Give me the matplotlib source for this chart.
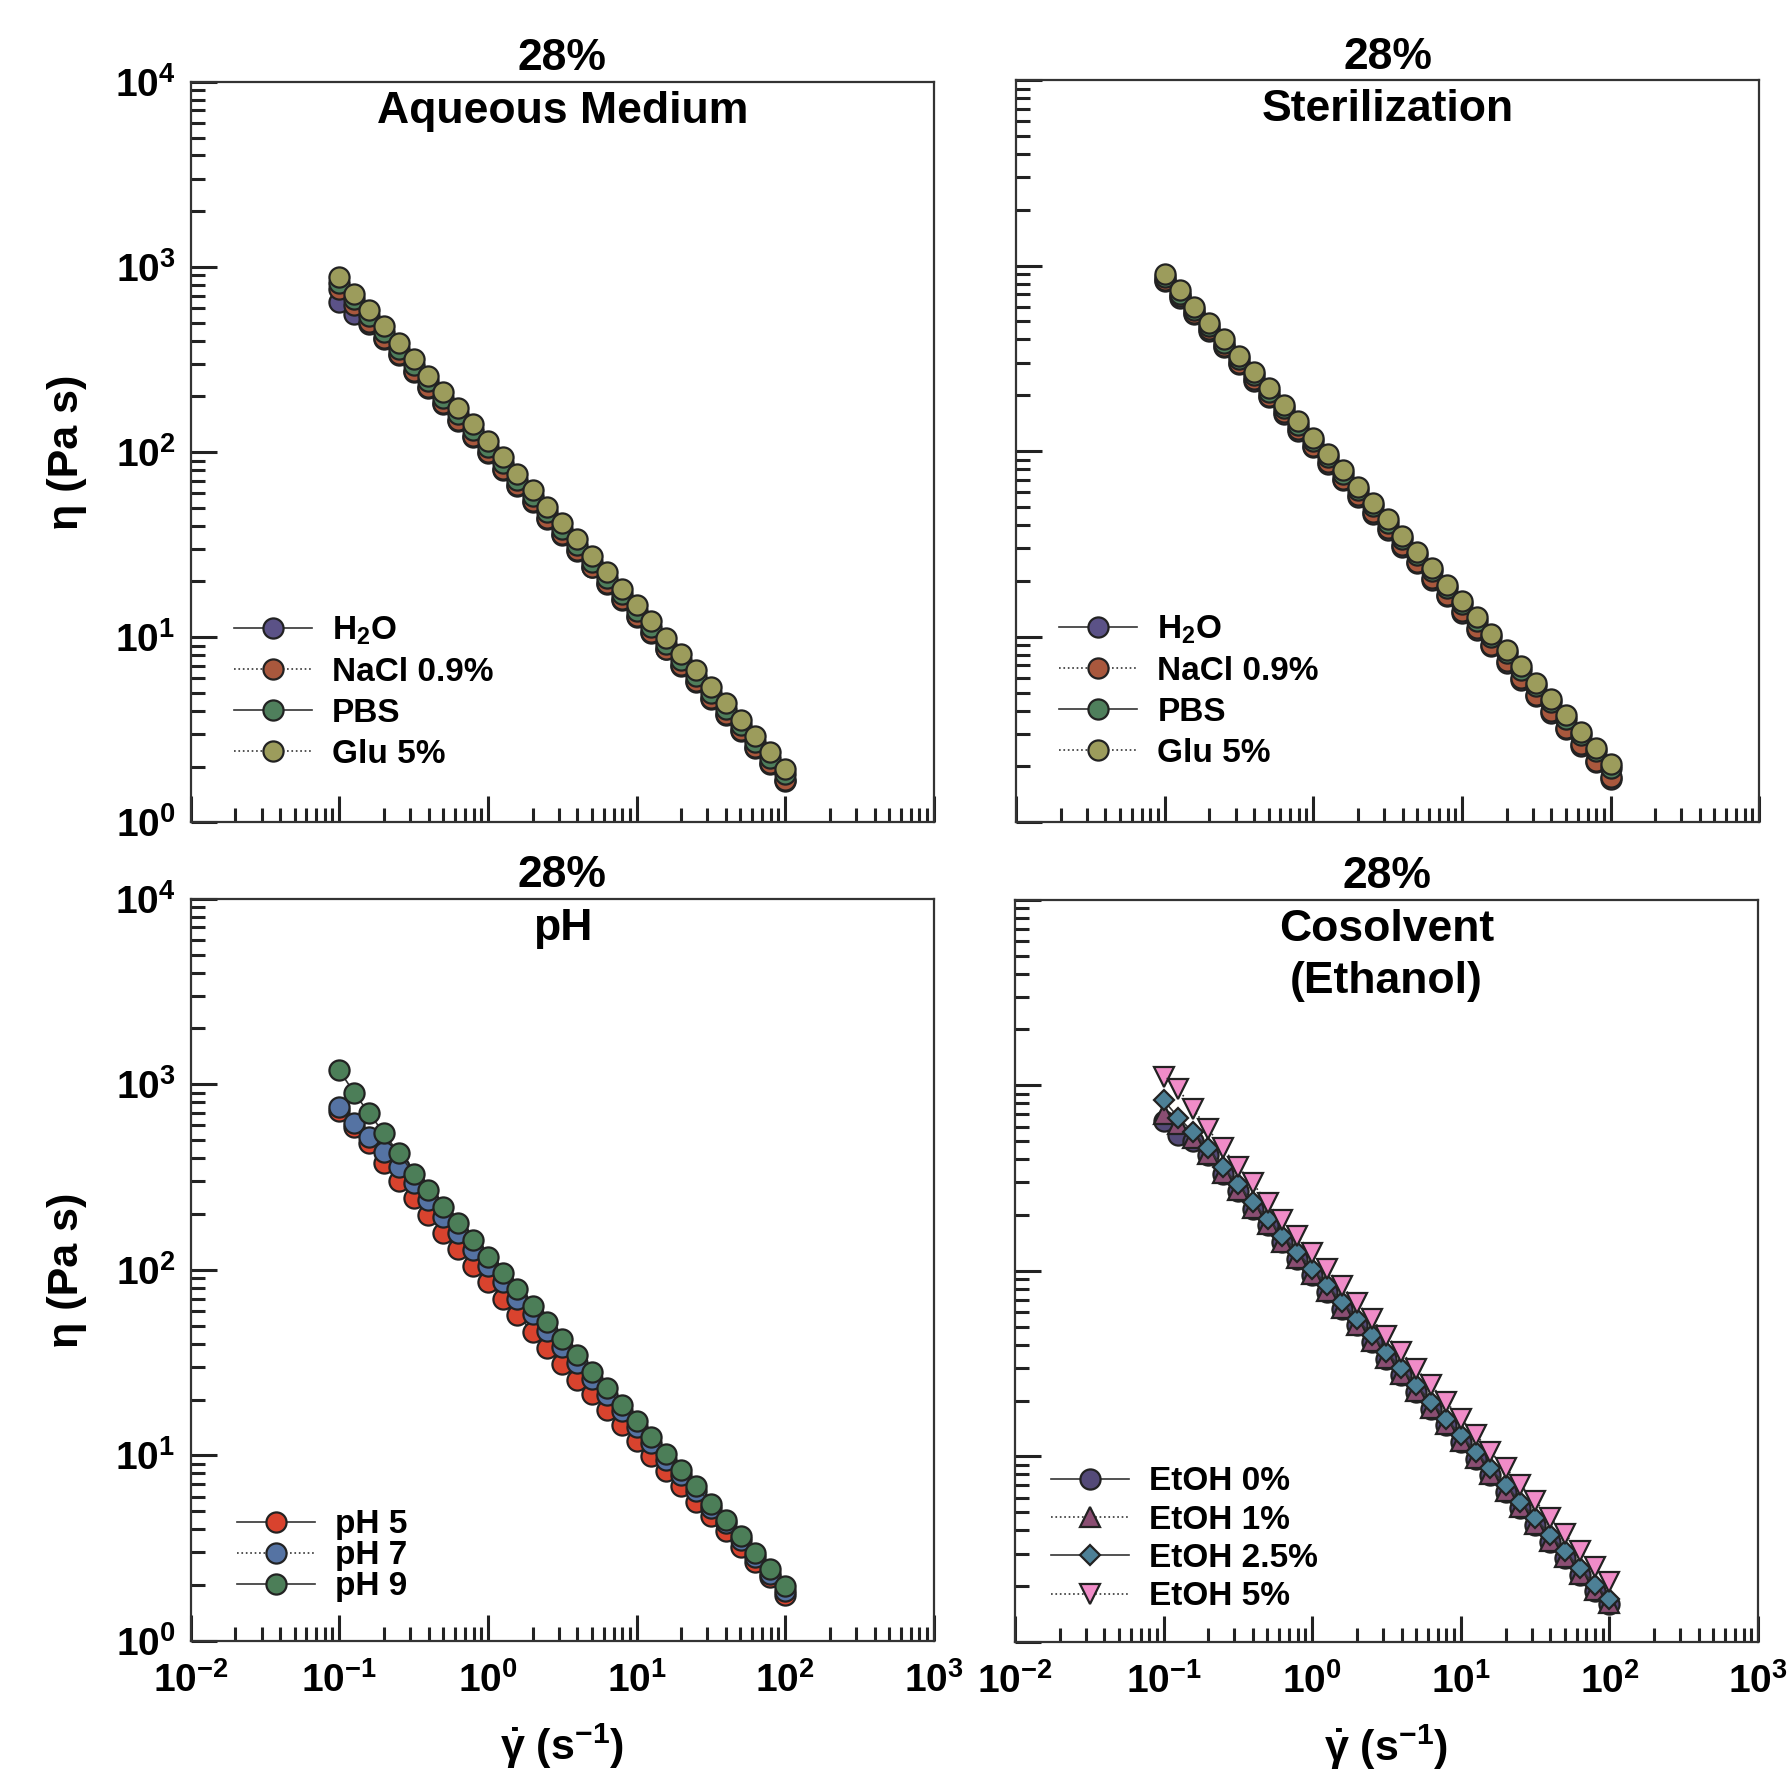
import numpy as np
import matplotlib
matplotlib.use('Agg')
import matplotlib.pyplot as plt
from matplotlib.ticker import LogLocator, NullFormatter

plt.rcParams['font.family'] = ['Liberation Sans', 'DejaVu Sans']
plt.rcParams['font.weight'] = 'bold'
plt.rcParams['axes.labelweight'] = 'bold'
plt.rcParams['mathtext.fontset'] = 'custom'
plt.rcParams['mathtext.rm'] = 'Liberation Sans:bold'
plt.rcParams['mathtext.bf'] = 'Liberation Sans:bold'
plt.rcParams['mathtext.it'] = 'Liberation Sans:bold'
plt.rcParams['mathtext.default'] = 'bf'

# shear rate (1/s)
shear = [0.1, 0.126, 0.158, 0.2, 0.251, 0.316, 0.398, 0.501, 0.631, 0.794,
         1.0, 1.26, 1.58, 2.0, 2.51, 3.16, 3.98, 5.01, 6.31, 7.94,
         10.0, 12.6, 15.8, 20.0, 25.1, 31.6, 39.8, 50.1, 63.1, 79.4, 100.0]

# viscosity (Pa s) - aqueous medium
aq_h2o = [650, 560, 490, 409, 334, 272, 222, 181, 148, 121, 98.5, 80.4, 65.6, 53.6, 43.7, 35.6,
          29.1, 23.8, 19.4, 15.8, 12.9, 10.5, 8.58, 7.0, 5.71, 4.66, 3.81, 3.11, 2.53, 2.07, 1.68]
aq_nacl = [760, 620, 506, 413, 337, 275, 224, 183, 149, 122, 99.5, 81.2, 66.3, 54.1, 44.1, 36.0,
           29.4, 24.0, 19.6, 16.0, 13.0, 10.6, 8.67, 7.08, 5.77, 4.71, 3.85, 3.14, 2.56, 2.09, 1.70]
aq_pbs = [820, 668, 545, 444, 362, 295, 241, 197, 160, 131, 107, 87.0, 71.0, 58.0, 47.2, 38.5,
          31.4, 25.6, 20.9, 17.0, 13.9, 11.3, 9.2, 7.5, 6.15, 5.0, 4.1, 3.34, 2.72, 2.22, 1.82]
aq_glu = [880, 718, 585, 478, 389, 318, 259, 211, 172, 141, 115, 93.5, 76.3, 62.2, 50.7, 41.4,
          33.7, 27.5, 22.4, 18.3, 14.9, 12.2, 9.94, 8.11, 6.61, 5.39, 4.40, 3.59, 2.93, 2.39, 1.95]

# sterilization
st_h2o = [823, 670, 546, 444, 362, 294, 239, 195, 159, 129, 105, 85.5, 69.6, 56.6, 46.1, 37.5,
          30.6, 24.9, 20.2, 16.5, 13.4, 10.9, 8.87, 7.22, 5.88, 4.78, 3.89, 3.17, 2.58, 2.10, 1.72]
st_nacl = [840, 684, 557, 453, 369, 300, 244, 199, 162, 132, 107, 87.2, 71.0, 57.8, 47.0, 38.3,
           31.2, 25.4, 20.6, 16.8, 13.7, 11.1, 9.05, 7.37, 6.0, 4.88, 3.97, 3.23, 2.63, 2.14, 1.75]
st_pbs = [864, 706, 576, 470, 384, 313, 256, 209, 171, 139, 113, 92.8, 75.7, 61.8, 50.5, 41.2,
          33.7, 27.5, 22.5, 18.3, 15.0, 12.2, 9.98, 8.14, 6.64, 5.42, 4.43, 3.62, 2.95, 2.41, 1.97]
st_glu = [900, 735, 600, 490, 400, 326, 267, 218, 178, 145, 118, 96.7, 78.9, 64.4, 52.6, 42.9,
          35.1, 28.6, 23.4, 19.1, 15.6, 12.7, 10.4, 8.48, 6.92, 5.65, 4.61, 3.77, 3.07, 2.51, 2.05]

# pH
ph5 = [720, 590, 480, 378, 303, 245, 197, 158, 129, 105, 86.0, 70.0, 57.0, 46.5, 38.0, 31.0,
       25.5, 21.5, 17.5, 14.5, 12.0, 9.9, 8.2, 6.8, 5.6, 4.7, 3.9, 3.2, 2.65, 2.2, 1.78]
ph7 = [750, 622, 517, 430, 357, 292, 237, 192, 157, 128, 105, 86.0, 70.0, 57.5, 47.0, 38.5,
       31.5, 25.8, 21.1, 17.3, 14.2, 11.6, 9.5, 7.8, 6.4, 5.2, 4.3, 3.5, 2.85, 2.3, 1.85]
ph9 = [1190, 900, 700, 545, 425, 330, 268, 217, 178, 145, 118, 96.5, 78.6, 64.1, 52.2, 42.6,
       34.7, 28.3, 23.0, 18.8, 15.3, 12.5, 10.2, 8.3, 6.8, 5.5, 4.5, 3.66, 2.98, 2.43, 1.98]

# cosolvent (ethanol)
et0 = [640, 537, 500, 420, 332, 270, 215, 176, 143, 116, 94.8, 76.8, 62.6, 50.9, 41.4, 33.7,
       27.4, 22.3, 18.1, 14.7, 12.0, 9.75, 7.94, 6.46, 5.25, 4.28, 3.48, 2.83, 2.30, 1.88, 1.60]
et1 = [700, 620, 519, 425, 336, 272, 218, 178, 144, 117, 95.8, 77.7, 63.2, 51.4, 41.9, 34.0,
       27.7, 22.5, 18.3, 14.9, 12.1, 9.86, 8.03, 6.53, 5.31, 4.32, 3.52, 2.86, 2.33, 1.90, 1.62]
et25 = [830, 671, 558, 457, 361, 293, 234, 191, 155, 126, 103, 83.5, 68.0, 55.3, 45.0, 36.6,
        29.8, 24.2, 19.7, 16.0, 13.0, 10.6, 8.63, 7.02, 5.71, 4.65, 3.78, 3.08, 2.50, 2.04, 1.70]
et5 = [1110, 953, 743, 580, 457, 365, 297, 233, 188, 154, 125, 102, 83.0, 67.5, 55.0, 44.8,
       36.5, 29.7, 24.2, 19.7, 16.0, 13.1, 10.6, 8.67, 7.06, 5.75, 4.68, 3.81, 3.10, 2.53, 2.10]

c_h2o, c_nacl, c_pbs, c_glu = '#5b5287', '#a9583d', '#4f7f5c', '#9c9c5c'
c_ph5, c_ph7, c_ph9 = '#d9432e', '#5573a3', '#4c7e58'
c_et0, c_et1, c_et25, c_et5 = '#544a78', '#8a4e72', '#4d8096', '#f08cc8'


def style_axis(ax, labx, laby):
    ax.set_xscale('log')
    ax.set_yscale('log')
    ax.set_xlim(1e-2, 1e3)
    ax.set_ylim(1, 1e4)
    for a in (ax.xaxis, ax.yaxis):
        a.set_major_locator(LogLocator(base=10, numticks=12))
        a.set_minor_locator(LogLocator(base=10, subs=np.arange(2, 10), numticks=12))
        a.set_minor_formatter(NullFormatter())
    ax.tick_params(which='major', direction='in', length=19, width=2.2, labelsize=28,
                   top=False, right=False, color='#222222')
    ax.tick_params(which='minor', direction='in', length=10, width=2.2,
                   top=False, right=False, color='#222222')
    ax.tick_params(axis='x', which='major', pad=15)
    ax.tick_params(axis='y', which='major', pad=11)
    ax.tick_params(labelbottom=labx, labelleft=laby)
    for s in ax.spines.values():
        s.set_linewidth(1.6)
        s.set_color('#333333')


def draw(ax, y, color, ls, marker='o', ms=14.5, label=None):
    ax.plot(shear, y, linestyle=ls, color='#333333', lw=1.2, marker=marker, ms=ms,
            mfc=color, mec='#222222', mew=1.6, label=label)


fig = plt.figure(figsize=(17.9, 17.86), dpi=100)
ax1 = fig.add_axes([0.1065, 0.5396, 0.4152, 0.4146])
ax2 = fig.add_axes([0.5676, 0.5396, 0.4152, 0.4156])
ax3 = fig.add_axes([0.1065, 0.0812, 0.4152, 0.4156])
ax4 = fig.add_axes([0.5670, 0.0806, 0.4152, 0.4156])

# Aqueous medium
draw(ax1, aq_h2o, c_h2o, '-', label='H$_2$O')
draw(ax1, aq_nacl, c_nacl, ':', label='NaCl 0.9%')
draw(ax1, aq_pbs, c_pbs, '-', label='PBS')
draw(ax1, aq_glu, c_glu, ':', label='Glu 5%')

# Sterilization
draw(ax2, st_h2o, c_h2o, '-', label='H$_2$O')
draw(ax2, st_nacl, c_nacl, ':', label='NaCl 0.9%')
draw(ax2, st_pbs, c_pbs, '-', label='PBS')
draw(ax2, st_glu, c_glu, ':', label='Glu 5%')

# pH
draw(ax3, ph5, c_ph5, '-', label='pH 5')
draw(ax3, ph7, c_ph7, ':', label='pH 7')
draw(ax3, ph9, c_ph9, '-', label='pH 9')

# Cosolvent
draw(ax4, et0, c_et0, '-', label='EtOH 0%')
draw(ax4, et1, c_et1, ':', marker='^', ms=15, label='EtOH 1%')
draw(ax4, et25, c_et25, '-', marker='D', ms=10.5, label='EtOH 2.5%')
draw(ax4, et5, c_et5, ':', marker='v', ms=15, label='EtOH 5%')

style_axis(ax1, False, True)
style_axis(ax2, False, False)
style_axis(ax3, True, True)
style_axis(ax4, True, False)

titles = [(ax1, ['Aqueous Medium']), (ax2, ['Sterilization']),
          (ax3, ['pH']), (ax4, ['Cosolvent', '(Ethanol)'])]
for ax, lines in titles:
    ax.text(0.5, 1.031, '28%', transform=ax.transAxes, ha='center', va='center', fontsize=32)
    for i, t in enumerate(lines):
        ax.text(0.5, 0.96 - 0.07 * i, t, transform=ax.transAxes, ha='center', va='center',
                fontsize=32)

leg_kw = dict(frameon=False, fontsize=24, numpoints=1, handlelength=2.35,
              handletextpad=0.6, borderpad=0, borderaxespad=0, loc='lower left')
ax1.legend(bbox_to_anchor=(0.058, 0.071), labelspacing=0.3, **leg_kw)
ax2.legend(bbox_to_anchor=(0.058, 0.072), labelspacing=0.3, **leg_kw)
ax3.legend(bbox_to_anchor=(0.062, 0.052), labelspacing=0.0, **leg_kw)
ax4.legend(bbox_to_anchor=(0.048, 0.04), labelspacing=0.22, **leg_kw)

for ax in (ax1, ax3):
    ax.set_ylabel('η (Pa s)', fontsize=31, labelpad=20)
for ax in (ax3, ax4):
    ax.set_xlabel(r'$\dot{\mathrm{\gamma}}$ (s$^{-1}$)', fontsize=31, labelpad=16)

fig.savefig('out.png', dpi=100, facecolor='white')
